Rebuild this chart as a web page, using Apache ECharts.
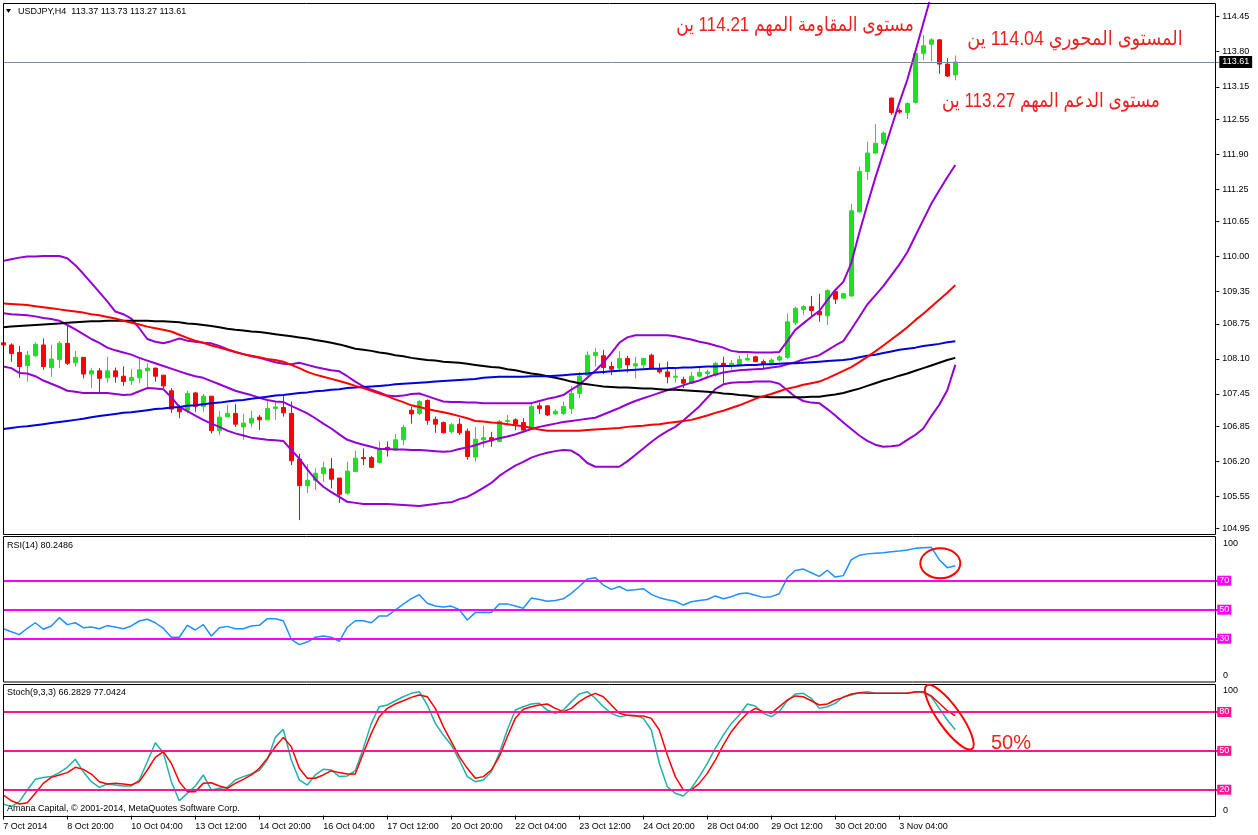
<!DOCTYPE html>
<html><head><meta charset="utf-8">
<script src="https://cdn.jsdelivr.net/npm/echarts@6/dist/echarts.min.js"></script>
<style>html,body{margin:0;padding:0;background:#fff}#c{width:1258px;height:835px}</style>
</head><body><div id="c"></div>
<script>
const timeLabels = ['7 Oct 2014','8 Oct 20:00','10 Oct 04:00','13 Oct 12:00','14 Oct 20:00','16 Oct 04:00','17 Oct 12:00','20 Oct 20:00','22 Oct 04:00','23 Oct 12:00','24 Oct 20:00','28 Oct 04:00','29 Oct 12:00','30 Oct 20:00','3 Nov 04:00'];
const priceTicks = [114.45,113.80,113.15,112.55,111.90,111.25,110.65,110.00,109.35,108.75,108.10,107.45,106.85,106.20,105.55,104.95];
const rsiLevels = [70,50,30];
const stochLevels = [80,50,20];
const lastPrice = 113.61;

const opens = [108.40,108.36,108.22,107.98,108.16,108.36,107.94,108.09,108.39,108.03,
108.13,107.82,107.88,107.75,107.88,107.78,107.70,107.75,107.88,107.93,
107.80,107.51,107.20,107.15,107.47,107.22,107.41,106.77,107.03,107.09,
106.84,106.91,107.02,106.97,107.18,107.20,107.09,106.24,105.75,105.85,
105.97,106.06,105.89,105.61,106.01,106.27,106.27,106.18,106.46,106.41,
106.60,107.15,107.09,107.33,106.98,106.92,106.75,106.89,106.76,106.28,
106.60,106.64,106.57,106.94,106.97,106.92,106.81,107.23,107.23,107.08,
107.09,107.18,107.46,107.80,108.16,108.16,107.96,107.93,108.11,107.97,
107.99,108.17,107.91,107.86,107.76,107.72,107.65,107.78,107.83,107.80,
108.02,107.99,107.99,108.08,108.14,108.05,108.01,108.08,108.13,108.77,
109.02,109.07,108.98,108.90,109.35,109.23,109.27,110.83,111.58,111.92,
112.10,112.94,112.71,112.67,112.86,113.77,113.94,114.02,113.57,113.37];
const closes = [108.36,108.20,107.96,108.17,108.37,107.96,108.10,108.39,108.02,108.13,
107.82,107.88,107.74,107.88,107.77,107.68,107.76,107.90,107.93,107.78,
107.60,107.17,107.12,107.46,107.22,107.41,106.77,107.02,107.09,106.89,
106.91,107.00,106.97,107.18,107.21,107.10,106.21,105.75,105.85,105.98,
106.08,105.87,105.59,106.02,106.26,106.25,106.09,106.44,106.41,106.60,
106.83,107.08,107.31,106.96,106.89,106.73,106.88,106.73,106.29,106.61,
106.64,106.58,106.94,106.96,106.89,106.78,107.22,107.18,107.06,107.13,
107.22,107.46,107.78,108.17,108.22,107.94,107.91,108.11,107.99,108.01,
108.11,107.93,107.86,107.77,107.78,107.65,107.78,107.85,107.86,108.02,
107.96,108.02,108.09,108.11,108.05,108.01,108.08,108.14,108.79,109.04,
109.07,109.00,108.92,109.37,109.21,109.31,110.85,111.58,111.92,112.10,
112.29,112.67,112.68,112.84,113.77,113.91,114.02,113.57,113.35,113.61];
const lows = [108.30,108.05,107.75,107.68,108.14,107.90,107.77,107.93,107.99,107.96,
107.74,107.56,107.46,107.66,107.66,107.60,107.62,107.65,107.57,107.68,
107.56,107.10,107.00,107.09,107.12,107.12,106.72,106.69,107.02,106.84,
106.60,106.83,106.78,106.97,106.97,107.03,106.13,105.11,105.61,105.67,
105.82,105.70,105.43,105.58,106.01,106.13,106.08,106.16,106.29,106.41,
106.50,106.90,107.06,106.88,106.73,106.72,106.72,106.69,106.23,106.19,
106.46,106.47,106.57,106.88,106.78,106.75,106.78,107.08,107.04,107.06,
107.06,107.08,107.37,107.77,107.96,107.82,107.80,107.86,107.85,107.74,
107.93,107.91,107.83,107.65,107.66,107.56,107.64,107.77,107.74,107.77,
107.65,107.90,107.97,108.07,108.04,107.90,107.99,108.05,108.10,108.73,
108.92,108.90,108.79,108.73,109.12,109.21,109.25,110.81,111.42,111.90,
112.07,112.63,112.65,112.55,112.84,113.64,113.62,113.39,113.33,113.27];
const highs = [108.73,108.39,108.34,108.25,108.41,108.48,108.36,108.43,108.73,108.25,
108.13,107.93,107.93,108.14,107.94,107.96,107.91,108.11,108.02,107.94,
107.80,107.56,107.25,107.51,107.49,107.45,107.41,107.13,107.25,107.26,
107.08,107.14,107.06,107.31,107.31,107.43,107.31,106.34,106.15,106.07,
106.19,106.26,105.89,106.19,106.40,106.44,106.30,106.57,106.57,106.71,
106.88,107.22,107.34,107.35,107.03,106.94,106.91,107.00,106.81,106.84,
106.86,106.75,106.97,107.06,107.00,107.00,107.29,107.29,107.23,107.17,
107.31,107.59,107.86,108.24,108.30,108.27,108.05,108.24,108.16,108.14,
108.11,108.20,108.02,108.05,107.93,107.77,107.86,107.93,107.90,108.05,
108.14,108.08,108.16,108.20,108.16,108.09,108.11,108.17,108.94,109.07,
109.10,109.27,109.31,109.39,109.38,109.33,110.98,111.67,112.13,112.46,
112.32,112.95,112.75,112.86,113.86,114.11,114.05,114.03,113.68,113.73];

const maRed = [109.13,109.12,109.11,109.10,109.08,109.06,109.04,109.02,109.00,108.98,
108.96,108.93,108.91,108.88,108.85,108.81,108.77,108.74,108.70,108.67,
108.64,108.61,108.55,108.49,108.44,108.40,108.35,108.31,108.27,108.23,
108.19,108.16,108.13,108.10,108.08,108.05,107.99,107.93,107.86,107.81,
107.77,107.73,107.69,107.65,107.60,107.56,107.51,107.46,107.41,107.35,
107.30,107.24,107.21,107.17,107.14,107.11,107.08,107.04,107.00,106.95,
106.94,106.92,106.91,106.89,106.87,106.85,106.82,106.79,106.77,106.77,
106.77,106.77,106.77,106.78,106.79,106.80,106.81,106.82,106.84,106.85,
106.86,106.88,106.89,106.91,106.93,106.95,106.97,107.01,107.05,107.10,
107.14,107.19,107.24,107.30,107.36,107.41,107.45,107.50,107.55,107.58,
107.62,107.65,107.68,107.74,107.81,107.88,107.95,108.04,108.14,108.24,
108.35,108.46,108.57,108.69,108.82,108.94,109.07,109.20,109.33,109.47];
const maBlack = [108.69,108.70,108.71,108.72,108.73,108.74,108.75,108.76,108.77,108.78,
108.79,108.80,108.80,108.81,108.81,108.81,108.81,108.81,108.81,108.80,
108.80,108.79,108.78,108.76,108.75,108.73,108.71,108.69,108.66,108.64,
108.63,108.61,108.60,108.58,108.56,108.54,108.52,108.50,108.48,108.45,
108.43,108.40,108.37,108.33,108.29,108.27,108.25,108.22,108.20,108.17,
108.15,108.12,108.10,108.08,108.07,108.05,108.04,108.03,108.01,107.99,
107.97,107.95,107.94,107.91,107.89,107.86,107.83,107.81,107.78,107.75,
107.72,107.68,107.65,107.63,107.61,107.59,107.58,107.57,107.57,107.56,
107.55,107.55,107.54,107.53,107.53,107.52,107.51,107.50,107.49,107.48,
107.46,107.45,107.43,107.42,107.40,107.40,107.39,107.39,107.39,107.39,
107.39,107.40,107.40,107.42,107.44,107.47,107.51,107.55,107.60,107.65,
107.70,107.74,107.79,107.83,107.88,107.93,107.98,108.03,108.08,108.12];
const maBlue = [106.80,106.82,106.84,106.85,106.87,106.89,106.91,106.93,106.95,106.97,
106.99,107.02,107.04,107.06,107.08,107.10,107.11,107.13,107.15,107.17,
107.18,107.20,107.21,107.23,107.24,107.26,107.28,107.29,107.31,107.33,
107.34,107.36,107.38,107.40,107.42,107.43,107.45,107.47,107.48,107.50,
107.51,107.53,107.54,107.56,107.57,107.58,107.59,107.60,107.61,107.63,
107.64,107.65,107.66,107.67,107.68,107.69,107.70,107.71,107.72,107.73,
107.75,107.76,107.77,107.77,107.77,107.77,107.78,107.78,107.78,107.79,
107.80,107.81,107.82,107.83,107.85,107.86,107.87,107.88,107.89,107.90,
107.91,107.92,107.92,107.93,107.93,107.94,107.94,107.95,107.96,107.96,
107.97,107.97,107.98,107.99,107.99,108.00,108.00,108.01,108.02,108.02,
108.03,108.04,108.05,108.06,108.07,108.08,108.10,108.13,108.16,108.18,
108.21,108.24,108.27,108.29,108.31,108.34,108.36,108.38,108.41,108.43];

const bbUpper = [109.92,109.95,109.98,110.00,110.00,110.01,110.01,110.01,109.97,109.84,
109.68,109.51,109.34,109.17,108.98,108.93,108.85,108.67,108.47,108.42,
108.39,108.43,108.48,108.44,108.42,108.40,108.39,108.34,108.28,108.23,
108.19,108.15,108.12,108.08,108.04,108.01,108.00,108.03,107.99,107.95,
107.92,107.89,107.87,107.78,107.68,107.59,107.53,107.48,107.42,107.41,
107.42,107.45,107.46,107.41,107.36,107.31,107.30,107.30,107.29,107.29,
107.28,107.28,107.28,107.28,107.28,107.28,107.28,107.32,107.36,107.39,
107.43,107.53,107.62,107.75,107.88,108.03,108.21,108.40,108.50,108.54,
108.54,108.54,108.54,108.54,108.52,108.49,108.46,108.42,108.39,108.35,
108.31,108.25,108.23,108.23,108.22,108.22,108.22,108.23,108.43,108.64,
108.76,108.88,108.99,109.19,109.38,109.53,109.88,110.44,110.96,111.46,
111.92,112.39,112.85,113.28,113.80,114.33,114.85,115.20,115.50,115.70];
const bbMiddle = [108.95,108.93,108.92,108.91,108.89,108.86,108.84,108.81,108.73,108.65,
108.56,108.47,108.40,108.31,108.26,108.22,108.18,108.12,108.07,108.02,
107.97,107.92,107.87,107.82,107.78,107.75,107.69,107.63,107.57,107.51,
107.47,107.43,107.38,107.34,107.31,107.30,107.23,107.16,107.09,107.00,
106.90,106.81,106.70,106.60,106.55,106.51,106.47,106.43,106.43,106.42,
106.42,106.41,106.41,106.40,106.39,106.38,106.39,106.43,106.46,106.50,
106.55,106.59,106.63,106.66,106.70,106.75,106.80,106.84,106.87,106.90,
106.93,106.95,106.97,106.99,107.01,107.07,107.13,107.19,107.26,107.32,
107.37,107.42,107.47,107.52,107.56,107.61,107.66,107.70,107.76,107.81,
107.85,107.87,107.89,107.90,107.91,107.92,107.94,107.96,108.00,108.04,
108.09,108.13,108.17,108.26,108.35,108.43,108.65,108.88,109.11,109.28,
109.45,109.65,109.85,110.08,110.38,110.68,110.98,111.23,111.47,111.70];
const bbLower = [107.96,107.93,107.84,107.83,107.78,107.70,107.64,107.58,107.51,107.49,
107.47,107.47,107.47,107.47,107.45,107.43,107.44,107.50,107.56,107.55,
107.54,107.39,107.21,107.13,107.05,106.97,106.90,106.84,106.77,106.72,
106.68,106.64,106.62,106.60,106.59,106.58,106.41,106.25,106.05,105.87,
105.73,105.63,105.54,105.45,105.43,105.41,105.41,105.41,105.41,105.40,
105.39,105.38,105.37,105.39,105.41,105.43,105.44,105.50,105.54,105.62,
105.71,105.80,105.93,106.03,106.12,106.19,106.27,106.32,106.36,106.39,
106.41,106.40,106.31,106.17,106.10,106.10,106.10,106.10,106.20,106.32,
106.44,106.56,106.67,106.76,106.84,106.96,107.09,107.22,107.38,107.54,
107.63,107.66,107.67,107.67,107.68,107.68,107.68,107.64,107.52,107.40,
107.32,107.29,107.28,107.17,107.05,106.92,106.80,106.68,106.58,106.51,
106.47,106.48,106.50,106.60,106.69,106.81,107.04,107.25,107.52,107.99];

const rsi = [36.9,34.8,32.8,37.2,41.0,36.5,38.8,44.5,39.7,41.0,
37.6,38.0,36.9,39.0,38.0,36.9,38.8,42.2,43.4,41.0,
37.2,31.0,31.0,39.2,36.0,39.7,31.9,37.6,38.5,36.9,
36.9,38.8,39.2,43.8,43.8,42.4,29.6,25.9,27.7,31.0,
31.9,31.0,28.2,37.9,42.4,42.4,41.0,45.7,45.7,49.8,
53.9,57.6,60.3,54.5,52.5,51.8,52.5,50.0,42.9,48.0,
48.3,48.0,53.9,54.0,52.5,51.0,58.0,57.0,55.8,56.3,
57.5,61.3,66.0,71.2,72.1,67.0,64.0,66.0,63.2,63.8,
64.5,60.6,58.3,56.9,55.8,53.2,55.5,56.3,57.0,59.5,
57.6,59.0,61.0,61.5,60.0,58.5,59.0,61.0,72.0,77.0,
78.0,75.5,73.0,77.2,72.5,73.5,84.5,87.5,88.5,89.0,
89.3,90.0,90.5,91.2,92.3,92.8,93.0,84.5,79.0,80.25];

const stochMain = [9.0,6.9,10.8,19.8,28.0,29.5,30.1,33.2,37.3,43.5,
33.9,26.2,21.8,24.4,23.6,22.9,22.9,27.5,41.6,56.3,
48.6,26.2,11.5,17.2,22.9,31.4,19.8,21.1,21.8,27.5,
30.1,32.1,34.7,42.9,60.4,66.6,42.9,27.5,23.6,31.4,
35.7,35.2,30.1,30.6,34.7,51.9,71.2,84.1,85.4,88.7,
91.8,94.4,95.7,85.4,71.2,62.2,54.5,42.9,30.1,26.2,
27.5,33.9,48.1,66.1,81.5,84.1,86.2,86.7,81.5,79.0,
81.5,88.0,93.9,95.7,90.6,84.1,79.0,76.4,77.4,77.4,
75.1,66.1,40.4,22.3,17.2,15.1,21.1,30.1,40.4,51.9,
62.2,71.2,77.7,86.2,84.6,79.0,76.4,80.3,88.7,93.9,
94.4,90.6,82.8,84.1,86.7,91.8,93.1,94.9,95.7,94.4,
94.4,94.4,94.4,94.4,95.7,94.9,91.8,82.8,73.8,66.28];
const stochSignal = [15.9,11.5,9.0,10.0,17.2,24.9,29.5,31.4,33.2,37.3,
35.7,32.1,26.2,24.4,24.9,24.4,23.6,26.2,35.2,45.0,
49.4,40.4,26.2,18.5,18.5,24.9,25.4,22.9,21.1,24.9,
28.0,31.4,36.5,44.2,53.2,60.4,53.2,36.5,28.8,28.8,
31.4,34.7,33.2,32.1,32.1,48.1,63.5,76.4,82.8,86.2,
88.7,91.3,93.1,91.8,82.8,68.7,57.1,45.5,36.5,28.8,
30.1,35.2,45.5,60.9,75.1,82.1,84.1,85.4,86.2,82.8,
80.3,82.8,88.0,91.8,94.4,91.8,85.4,79.0,77.4,76.9,
76.9,75.1,66.1,46.8,30.1,19.8,19.8,24.9,32.6,42.9,
54.5,64.8,72.5,79.0,82.8,80.3,79.0,84.1,89.3,92.4,
91.8,88.7,85.4,86.2,89.3,91.3,93.9,94.9,94.4,94.4,
94.4,94.4,94.4,94.4,95.4,95.7,92.4,86.7,81.0,77.04];

const SLOTS = 153;
const FONT = '"Liberation Sans", Arial, sans-serif';
const AR_FONT = '20px "Liberation Sans", "DejaVu Sans", sans-serif';
const cats = Array.from({length: SLOTS}, (_, i) => String(i));
const candles = opens.map((o, i) => [o, closes[i], lows[i], highs[i]]);
const gridLeft = 3.3, gridWidth = (SLOTS - 1) * 8;
const labelIdx = idx => idx % 8 === 0 && idx / 8 < timeLabels.length;

function xAx(i) {
  return {type: 'category', gridIndex: i, data: cats, boundaryGap: false,
    axisLine: {show: false}, axisTick: {show: false}, axisLabel: {show: false}, splitLine: {show: false}};
}
function lineS(name, data, color, width, gi) {
  return {type: 'line', name, data, xAxisIndex: gi, yAxisIndex: gi, symbol: 'none', showSymbol: false,
    smooth: false, lineStyle: {color, width}, itemStyle: {color}, silent: true, z: 3, clip: true};
}
function levelLines(levels, color) {
  return {silent: true, symbol: ['none', 'none'], animation: false, label: {show: false},
    lineStyle: {color, width: 2, type: 'solid'}, data: levels.map(v => ({yAxis: v}))};
}
function levelAxis(gi, levels, bg) {
  return {type: 'value', gridIndex: gi, position: 'right', min: 0, max: 100, offset: -3,
    axisLine: {show: false}, splitLine: {show: false}, axisTick: {show: false},
    axisLabel: {customValues: levels, color: '#fff', backgroundColor: bg, padding: [1, 2, 0, 2],
      fontSize: 9, fontFamily: FONT, margin: 1}};
}

const chart = echarts.init(document.getElementById('c'), null, {renderer: 'canvas'});
const option = {
  animation: false,
  backgroundColor: '#ffffff',
  grid: [
    {left: gridLeft, top: 3, width: gridWidth, height: 532, outerBoundsMode: 'none'},
    {left: gridLeft, top: 537.2, width: gridWidth, height: 145, outerBoundsMode: 'none'},
    {left: gridLeft, top: 686.1, width: gridWidth, height: 129.5, outerBoundsMode: 'none'}
  ],
  xAxis: [xAx(0), xAx(1), Object.assign(xAx(2), {
    offset: 1,
    axisTick: {show: true, length: 4, inside: false, interval: labelIdx, lineStyle: {color: '#000', width: 1}},
    axisLabel: {show: true, interval: labelIdx, formatter: (v, idx) => timeLabels[Math.round(Number(v) / 8)] || '',
      align: 'left', color: '#000', fontSize: 9, fontFamily: FONT, margin: 5}
  })],
  yAxis: [
    {type: 'value', gridIndex: 0, position: 'right', min: 104.834, max: 114.704, offset: -3,
      axisLine: {show: false}, splitLine: {show: false},
      axisTick: {show: true, length: 3, customValues: priceTicks, lineStyle: {color: '#000'}},
      axisLabel: {customValues: priceTicks, formatter: v => Number(v).toFixed(2), color: '#000', fontSize: 9, fontFamily: FONT, margin: 6}},
    levelAxis(1, rsiLevels, '#ff00ff'),
    levelAxis(2, stochLevels, '#ff1493')
  ],
  series: [
    {type: 'candlestick', name: 'USDJPY', data: candles, xAxisIndex: 0, yAxisIndex: 0, barWidth: 4, z: 2,
      itemStyle: {color: '#1fe01f', color0: '#ff0000', borderColor: '#1fe01f', borderColor0: '#ff0000', borderWidth: 1},
      markLine: {silent: true, symbol: ['none', 'none'], animation: false, data: [{yAxis: lastPrice}],
        lineStyle: {color: '#7d8a99', width: 1, type: 'solid'},
        label: {show: true, position: 'end', formatter: lastPrice.toFixed(2), color: '#fff', backgroundColor: '#000',
          padding: [2, 3, 1, 3], fontSize: 9, fontFamily: FONT, distance: 0}}},
    lineS('BB upper', bbUpper, '#9400d3', 2, 0),
    lineS('BB middle', bbMiddle, '#9400d3', 2, 0),
    lineS('BB lower', bbLower, '#9400d3', 2, 0),
    lineS('MA black', maBlack, '#000000', 2, 0),
    lineS('MA blue', maBlue, '#0000dd', 2, 0),
    lineS('MA red', maRed, '#ff0000', 2, 0),
    Object.assign(lineS('RSI(14)', rsi, '#1e90ff', 1.5, 1), {markLine: levelLines(rsiLevels, '#ff00ff')}),
    Object.assign(lineS('Stoch main', stochMain, '#20b2aa', 1.5, 2), {markLine: levelLines(stochLevels, '#ff1493')}),
    lineS('Stoch signal', stochSignal, '#ff0000', 1.5, 2)
  ]
};
chart.setOption(option);

function txt(text, x, y, extra) {
  return {type: 'text', silent: true, z: 50,
    style: Object.assign({text, x, y, fill: '#000', font: '9px ' + FONT, align: 'left', verticalAlign: 'middle'}, extra || {})};
}
function note(text, cx, cy, sx) {
  return {type: 'text', silent: true, z: 50, x: cx, y: cy, scaleX: sx,
    style: {text, x: 0, y: 0, fill: '#f01e1e', font: AR_FONT, align: 'center', verticalAlign: 'middle'}};
}
function frame(x, y, w, h) {
  return {type: 'rect', silent: true, z: 40, shape: {x, y, width: w, height: h},
    style: {fill: 'none', stroke: '#000', lineWidth: 1}};
}
const pR = chart.convertToPixel({xAxisIndex: 1, yAxisIndex: 1}, [117, 82]);
const pS = chart.convertToPixel({xAxisIndex: 2, yAxisIndex: 2}, [118, 76]);
chart.setOption({graphic: [
  frame(3.5, 3.5, 1212, 531),
  frame(3.5, 536.5, 1212, 145.5),
  frame(3.5, 684.5, 1212, 132),
  {type: 'polygon', silent: true, z: 50, shape: {points: [[6, 9], [11, 9], [8.5, 13]]}, style: {fill: '#000'}},
  txt('USDJPY,H4  113.37 113.73 113.27 113.61', 18, 11.5),
  txt('RSI(14) 80.2486', 7, 546),
  txt('Stoch(9,3,3) 66.2829 77.0424', 7, 693),
  txt('Amana Capital, \u00a9 2001-2014, MetaQuotes Software Corp.', 7, 809),
  txt('100', 1223, 544),
  txt('0', 1223, 676),
  txt('100', 1223, 691),
  txt('0', 1223, 811),
  note('مستوى المقاومة المهم 114.21 ين', 795, 25, 0.85),
  note('المستوى المحوري 114.04 ين', 1075, 39, 0.89),
  note('مستوى الدعم المهم 113.27 ين', 1051, 101, 0.85),
  note('50%', 1011, 743, 1),
  {type: 'ellipse', silent: true, z: 45, x: pR[0] + 1, y: pR[1], shape: {cx: 0, cy: 0, rx: 20, ry: 15},
    style: {fill: 'none', stroke: '#ff0000', lineWidth: 2}},
  {type: 'ellipse', silent: true, z: 45, x: pS[0] + 2, y: pS[1], rotation: -0.95, shape: {cx: 0, cy: 0, rx: 39, ry: 11},
    style: {fill: 'none', stroke: '#ff0000', lineWidth: 2}}
]});
</script></body></html>
